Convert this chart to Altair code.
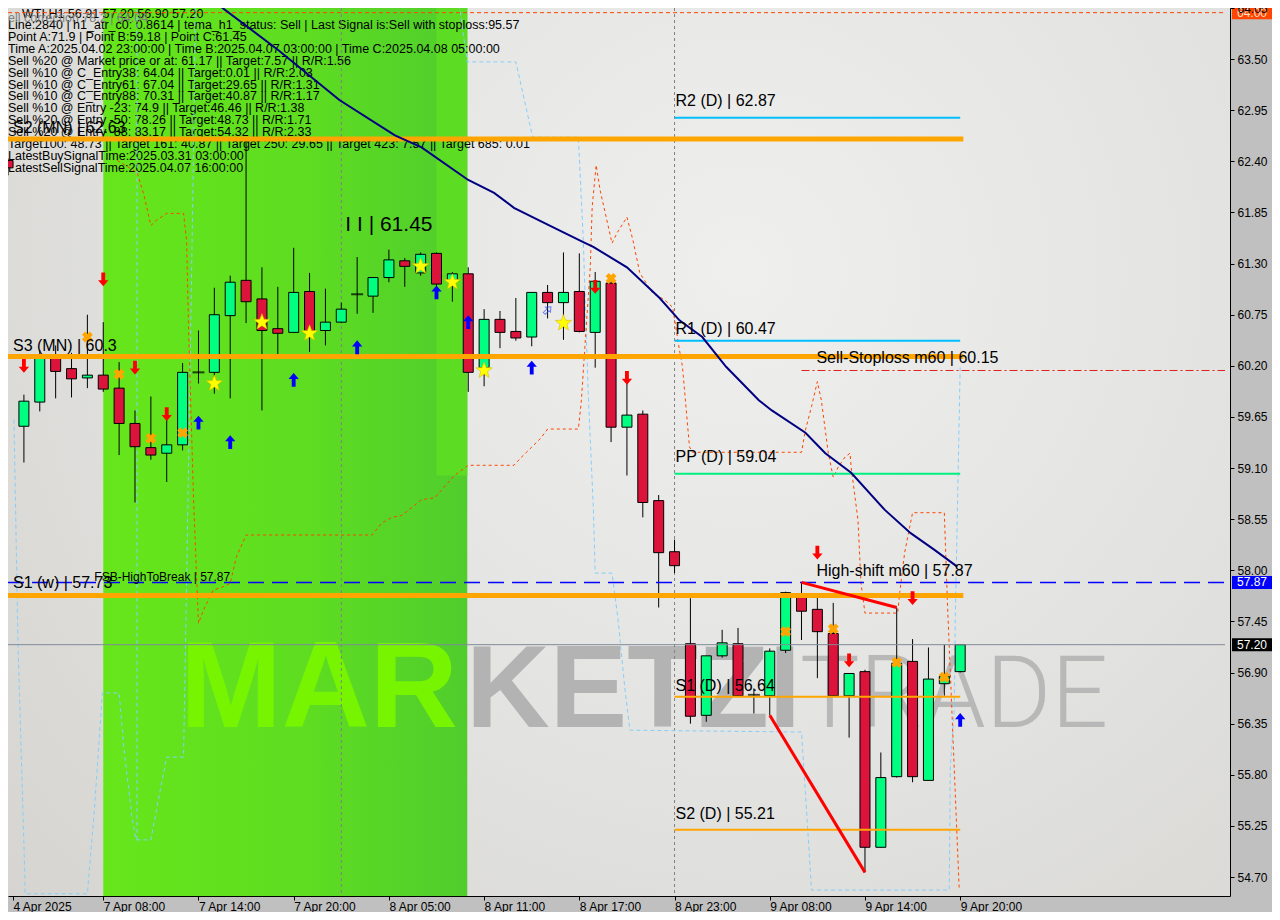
import math
import altair as alt
import pandas as pd

FONT = "Liberation Sans"
W, H = 1222, 888
X_DOMAIN = [0.3125, 76.6875]
Y_DOMAIN = [54.496, 64.05]
PX_PER_UNIT = H / (Y_DOMAIN[1] - Y_DOMAIN[0])

# ---------------- candles (bar index 0..60) ----------------
OPEN = [62.41, 59.55, 59.81, 60.30, 60.17, 60.07, 60.10, 59.96, 59.58, 59.32,
        59.26, 59.35, 60.13, 60.13, 60.74, 61.12, 60.92, 60.60, 60.56, 61.00,
        60.58, 60.67, 60.97, 60.95, 61.15, 61.33, 61.20, 61.41, 61.12, 61.19,
        60.18, 60.70, 60.57, 60.51, 60.99, 60.88, 61.00, 60.56, 61.09, 59.54,
        59.68, 58.75, 58.20, 57.21, 56.44, 57.08, 57.21, 56.66, 56.65, 57.14,
        57.71, 57.58, 57.32, 56.65, 56.91, 55.02, 55.78, 57.02, 55.74, 56.78,
        56.91]
HIGH = [62.43, 59.89, 60.37, 60.42, 60.34, 60.75, 60.67, 60.24, 59.72, 59.87,
        59.64, 60.23, 60.58, 61.04, 61.17, 62.63, 61.26, 61.05, 61.47, 61.20,
        61.03, 60.88, 61.37, 61.15, 61.45, 61.36, 61.42, 61.42, 61.21, 61.26,
        60.81, 60.79, 60.93, 60.99, 61.07, 61.42, 61.41, 61.21, 61.12, 60.01,
        59.72, 58.81, 58.33, 57.70, 57.08, 57.36, 57.38, 56.73, 57.16, 57.77,
        57.87, 57.71, 57.65, 56.89, 56.93, 56.04, 57.60, 57.26, 57.17, 57.20,
        57.20]
LOW = [62.25, 59.16, 59.71, 59.85, 59.86, 59.96, 59.92, 59.24, 58.73, 59.19,
       58.95, 59.29, 60.01, 59.90, 59.85, 60.66, 59.72, 60.32, 60.56, 60.35,
       60.42, 60.66, 60.76, 60.77, 61.10, 61.05, 61.17, 61.06, 60.89, 59.92,
       59.98, 60.39, 60.47, 60.41, 60.71, 60.48, 60.56, 60.18, 59.38, 59.02,
       58.57, 57.60, 57.97, 56.35, 56.37, 57.06, 56.65, 56.46, 56.44, 57.11,
       57.25, 56.84, 56.65, 56.20, 54.75, 55.02, 55.77, 55.72, 55.74, 56.65,
       56.90]
CLOSE = [62.33, 59.82, 60.32, 60.14, 60.06, 60.10, 59.95, 59.58, 59.33, 59.24,
         59.35, 60.13, 60.13, 60.75, 61.10, 60.89, 60.58, 60.55, 60.99, 60.58,
         60.67, 60.81, 60.97, 61.15, 61.34, 61.27, 61.40, 61.08, 61.19, 60.13,
         60.70, 60.56, 60.50, 60.99, 60.88, 60.99, 60.57, 61.11, 59.54, 59.67,
         58.73, 58.19, 58.05, 56.43, 57.08, 57.22, 56.65, 56.66, 57.13, 57.76,
         57.56, 57.34, 56.65, 56.89, 55.02, 55.77, 57.00, 55.78, 56.83, 56.86,
         57.20]

# ---------------- axes ----------------
PRICE_TICKS = [54.70, 55.25, 55.80, 56.35, 56.90, 57.45, 58.00, 58.55, 59.10,
               59.65, 60.20, 60.75, 61.30, 61.85, 62.40, 62.95, 63.50, 64.05]
TIME_TICK_IDX = [0.3125, 6, 12, 18, 24, 30, 36, 42, 48, 54, 60]
TIME_TICK_LABELS = ["4 Apr 2025", "7 Apr 08:00", "7 Apr 14:00", "7 Apr 20:00",
                    "8 Apr 05:00", "8 Apr 11:00", "8 Apr 17:00", "8 Apr 23:00",
                    "9 Apr 08:00", "9 Apr 14:00", "9 Apr 20:00"]

# ---------------- levels ----------------
MN_NAMES = ["S2 (MN) | 62.63", "S3 (MN) | 60.3", "S1 (w) | 57.73"]
MN_LEVELS = [62.64, 60.30, 57.73]
PIVOT_NAMES = ["R2 (D)", "R1 (D)", "PP (D)", "S1 (D)", "S2 (D)"]
PIVOT_LEVELS = [62.87, 60.47, 59.04, 56.64, 55.21]
PIVOT_COLORS = ["#00BFFF", "#00BFFF", "#00F080", "#FFA500", "#FFA500"]
PIVOT_START, PIVOT_END = 42, 60
FSB_LEVEL = 57.87
STOPLOSS_LEVEL = 60.15
STOPLOSS_START = 50
PRICE_NOW = 57.20
TOP_LEVEL = 64.00
SEPARATORS = [21, 42]
GREEN_START, GREEN_END = 6.0, 28.94

# ---------------- indicator paths (index, price) ----------------
MA_PATH = [(12.63, 64.17), (13.13, 64.10), (17.0, 63.60), (20.88, 63.06), (24.38, 62.68),
           (26.06, 62.55), (29.0, 62.20), (30.63, 62.06), (31.88, 61.90), (33.75, 61.74),
           (36.25, 61.53), (36.88, 61.48), (39.0, 61.26), (41.06, 60.93), (42.31, 60.69),
           (43.75, 60.51), (45.25, 60.19), (47.31, 59.83), (48.13, 59.72), (50.25, 59.48),
           (51.5, 59.26), (53.13, 59.05), (55.25, 58.65), (56.88, 58.40), (58.38, 58.22),
           (59.81, 58.04)]
ORANGE_PATH = [(6.88, 62.41), (8.13, 62.28), (8.56, 62.04), (9.0, 61.71), (9.38, 61.77),
               (10.0, 61.84), (11.06, 61.84), (11.25, 61.55), (11.38, 60.58), (11.69, 58.76),
               (12.0, 57.43), (12.31, 57.57), (12.94, 57.79), (13.38, 57.81), (14.0, 57.86),
               (14.38, 58.14), (15.0, 58.38), (22.94, 58.38), (23.56, 58.51), (24.19, 58.57),
               (24.81, 58.59), (26.06, 58.76), (26.88, 58.78), (28.13, 59.02), (29.0, 59.13),
               (31.88, 59.13), (32.31, 59.21), (33.56, 59.42), (34.0, 59.52), (35.94, 59.52),
               (36.13, 59.83), (36.38, 60.48), (36.69, 61.26), (36.81, 61.91), (37.06, 62.36),
               (37.31, 62.09), (38.06, 61.52), (38.38, 61.63), (39.0, 61.80), (39.38, 61.55),
               (39.81, 61.20), (40.63, 60.98), (41.38, 60.91), (41.88, 60.83), (42.31, 60.37),
               (42.5, 60.19), (42.94, 59.33), (43.13, 59.27), (50.0, 59.27), (50.25, 59.51),
               (50.63, 59.76), (51.0, 60.03), (51.25, 59.83), (51.69, 59.26), (52.0, 59.00),
               (52.31, 59.11), (52.75, 59.22), (53.06, 59.26), (53.13, 59.11), (53.56, 58.54),
               (53.75, 57.86), (54.0, 57.54), (56.06, 57.54), (56.19, 57.76), (56.5, 58.19),
               (57.0, 58.62), (59.0, 58.62), (59.19, 57.68), (59.5, 56.39), (59.94, 54.56)]
BLUE_PATH = [(0.375, 59.62), (0.625, 57.22), (1.06, 54.70), (1.06, 54.52), (5.0, 54.52),
             (5.44, 55.42), (5.94, 56.68), (7.0, 56.68), (7.31, 56.07), (7.81, 55.35),
             (8.06, 55.10), (9.0, 55.10), (9.63, 55.67), (10.0, 55.99), (11.06, 55.99),
             (11.25, 57.86), (11.44, 59.83), (11.69, 62.52), (11.81, 64.30), (28.25, 64.30),
             (28.94, 63.47), (32.0, 63.47), (33.06, 62.66), (35.94, 62.66), (36.25, 61.55),
             (36.56, 59.91), (36.88, 58.68), (37.0, 57.97), (38.06, 57.97), (38.44, 57.47),
             (38.88, 56.71), (39.19, 56.28), (50.0, 56.26), (50.25, 55.60), (50.63, 54.56),
             (59.31, 54.56), (59.38, 55.88), (59.63, 56.50), (59.69, 57.47), (60.0, 60.19)]
BLUE_VERTICAL = (8.13, 55.10)
ZIGZAG_A = [(48, 56.44), (54, 54.75)]
ZIGZAG_B = [(50, 57.87), (56, 57.60)]

# ---------------- markers ----------------
SELL_ARROWS = [(1, 60.20), (6, 61.13), (8, 60.18), (10, 59.68), (37, 61.05),
               (39, 60.07), (51, 58.19), (53, 57.03), (57, 57.70)]
BUY_ARROWS = [(12, 59.59), (14, 59.38), (18, 60.05), (22, 60.40), (27, 60.99),
              (29, 60.67), (33, 60.18), (60, 56.39)]
STARS = [(13, 60.01), (16, 60.67), (19, 60.55), (26, 61.27), (28, 61.10), (30, 60.15), (35, 60.66)]
CROSSES = [(5, 60.51), (7, 60.11), (9, 59.42), (11, 59.48), (38, 61.14),
           (49, 57.34), (52, 57.37), (56, 57.01), (59, 56.85)]
HOLLOW_ARROW = (34, 60.80)

INFO_LINES = [
    "Line:2840 | h1_atr_c0: 0.8614 | tema_h1_status: Sell | Last Signal is:Sell with stoploss:95.57",
    "Point A:71.9 | Point B:59.18 | Point C:61.45",
    " Time A:2025.04.02 23:00:00 | Time B:2025.04.07 03:00:00 | Time C:2025.04.08 05:00:00",
    "Sell %20 @ Market price or at: 61.17 || Target:7.57 || R/R:1.56",
    "Sell %10 @ C_Entry38: 64.04 || Target:0.01 || R/R:2.03",
    "Sell %10 @ C_Entry61: 67.04 || Target:29.65 || R/R:1.31",
    "Sell %10 @ C_Entry88: 70.31 || Target:40.87 || R/R:1.17",
    "Sell %10 @ Entry -23: 74.9 || Target:46.46 || R/R:1.38",
    "Sell %20 @ Entry -50: 78.26 || Target:48.73 || R/R:1.71",
    "Sell %20 @ Entry -88: 83.17 || Target:54.32 || R/R:2.33",
    " Target100: 48.73 || Target 161: 40.87 || Target 250: 29.65 || Target 423: 7.57 || Target 685: 0.01",
    "LatestBuySignalTime:2025.03.31 03:00:00",
    "LatestSellSignalTime:2025.04.07 16:00:00",
]
TITLE = "WTI,H1   56.91 57.20 56.90 57.20"
SUBTITLE = "ell correction 78.2 | 64.04"

# ---------------- helpers ----------------
xs = alt.Scale(domain=X_DOMAIN, nice=False, zero=False)
ys = alt.Scale(domain=Y_DOMAIN, nice=False, zero=False)
label_expr = " : ".join(f"datum.value < {v + 0.5} ? '{t}'" for v, t in
                        zip(TIME_TICK_IDX, TIME_TICK_LABELS)) + " : ''"
XAXIS = alt.Axis(values=TIME_TICK_IDX, labelExpr=label_expr, labelAlign="left",
                 labelBaseline="top", labelPadding=1, tickSize=4, labelOverlap=False,
                 labelFlush=False, grid=False, title=None, zindex=2)
YAXIS = alt.Axis(orient="right", values=PRICE_TICKS, format=".2f", tickSize=4,
                 labelPadding=3, labelOverlap=False, labelFlush=False, grid=False,
                 title=None, zindex=2)


def X(f):
    return alt.X(f + ":Q", scale=xs, axis=XAXIS, title=None)


def Y(f):
    return alt.Y(f + ":Q", scale=ys, axis=YAXIS, title=None)


def path_df(path):
    return pd.DataFrame({"x": [p[0] for p in path], "y": [p[1] for p in path],
                         "seq": list(range(len(path)))})


def pts(lst):
    return pd.DataFrame({"x": [p[0] for p in lst], "y": [p[1] for p in lst]})


def star_path(n=5, r_in=0.42):
    out = []
    for k in range(2 * n):
        a = -math.pi / 2 + k * math.pi / n
        r = 1.0 if k % 2 == 0 else r_in
        out.append(f"{r * math.cos(a):.3f},{r * math.sin(a):.3f}")
    return "M" + " L".join(out) + " Z"


UP_ARROW = "M0,-1 L0.75,-0.12 L0.28,-0.12 L0.28,1 L-0.28,1 L-0.28,-0.12 L-0.75,-0.12 Z"
DOWN_ARROW = "M0,1 L0.75,0.12 L0.28,0.12 L0.28,-1 L-0.28,-1 L-0.28,0.12 L-0.75,0.12 Z"

one = pd.DataFrame({"a": [0]})
layers = []

# background (plot area)
bg = alt.RadialGradient(gradient="radial", x1=0.6, y1=0.35, r1=0.0, x2=0.6, y2=0.35, r2=0.8,
                        stops=[alt.GradientStop(offset=0, color="#EFEFEE"),
                               alt.GradientStop(offset=0.5, color="#E3E3E1"),
                               alt.GradientStop(offset=1, color="#D5D4D0")])
layers.append(alt.Chart(one).mark_rect(fill=bg).encode(
    x=alt.value(0), x2=alt.value(W), y=alt.value(0), y2=alt.value(H)))

# green session band
green = alt.LinearGradient(gradient="linear", x1=0, y1=0, x2=1, y2=0,
                           stops=[alt.GradientStop(offset=0, color="#66E61A"),
                                  alt.GradientStop(offset=0.55, color="#5EDD21"),
                                  alt.GradientStop(offset=1, color="#50CD2D")])
gdf = pd.DataFrame({"x": [GREEN_START], "x2": [GREEN_END]})
layers.append(alt.Chart(gdf).mark_rect(fill=green).encode(
    x=X("x"), x2="x2:Q", y=alt.value(0), y2=alt.value(H)))
pdf = pd.DataFrame({"x": [27.0], "x2": [GREEN_END], "y": [59.02], "y2": [Y_DOMAIN[1]]})
layers.append(alt.Chart(pdf).mark_rect(fill="#5DDC24").encode(
    x=X("x"), x2="x2:Q", y=Y("y"), y2="y2:Q"))

# watermark
layers.append(alt.Chart(one).mark_text(text="MAR", font=FONT, fontWeight="bold", fontSize=122,
                                       align="left", baseline="alphabetic", color="#77F500").encode(
    x=alt.value(172), y=alt.value(719)))
layers.append(alt.Chart(one).mark_text(text="KETZI", font=FONT, fontWeight="bold", fontSize=116,
                                       align="left", baseline="alphabetic", color="#B3B3B3").encode(
    x=alt.value(458), y=alt.value(719)))
layers.append(alt.Chart(one).mark_text(text="TRADE", font="Roboto", fontWeight=300, fontSize=100,
                                       align="left", baseline="alphabetic", color="#B8B8B8").encode(
    x=alt.value(792), y=alt.value(719)))

# info text block
layers.append(alt.Chart(one).mark_text(text="\n".join(INFO_LINES), lineBreak="\n", lineHeight=11.9,
                                       font=FONT, fontSize=12.5, align="left", baseline="top",
                                       color="black").encode(x=alt.value(0), y=alt.value(11)))
layers.append(alt.Chart(one).mark_text(text=TITLE, font=FONT, fontSize=12.5, align="left",
                                       baseline="middle", color="black").encode(
    x=alt.value(14), y=alt.value(6)))
layers.append(alt.Chart(one).mark_text(text=SUBTITLE, font=FONT, fontSize=12.5, align="left",
                                       baseline="middle", color="#808080").encode(
    x=alt.value(0), y=alt.value(10)))

# period separators
sdf = pd.DataFrame({"x": SEPARATORS})
layers.append(alt.Chart(sdf).mark_rule(stroke="#808080", strokeDash=[3, 3], strokeWidth=1).encode(
    x=X("x"), y=alt.value(0), y2=alt.value(H)))

# indicator lines
layers.append(alt.Chart(path_df(BLUE_PATH)).mark_line(color="#87CEFA", strokeWidth=1,
                                                      strokeDash=[4, 3], clip=True).encode(
    x=X("x"), y=Y("y"), order="seq:Q"))
bv = pd.DataFrame({"x": [BLUE_VERTICAL[0]], "y": [BLUE_VERTICAL[1]], "y2": [Y_DOMAIN[1]]})
layers.append(alt.Chart(bv).mark_rule(color="#87CEFA", strokeWidth=1, strokeDash=[4, 3]).encode(
    x=X("x"), y=Y("y"), y2="y2:Q"))
layers.append(alt.Chart(path_df(ORANGE_PATH)).mark_line(color="#FF4500", strokeWidth=1,
                                                        strokeDash=[3, 3], clip=True).encode(
    x=X("x"), y=Y("y"), order="seq:Q"))

# candles
cdf = pd.DataFrame({"x": list(range(len(OPEN))), "open": OPEN, "high": HIGH,
                    "low": LOW, "close": CLOSE})
cdf["kind"] = ["doji" if abs(o - c) < 0.005 else ("up" if c > o else "down")
               for o, c in zip(OPEN, CLOSE)]
layers.append(alt.Chart(cdf).mark_rule(color="black", strokeWidth=1, clip=True).encode(
    x=X("x"), y=Y("low"), y2="high:Q"))
layers.append(alt.Chart(cdf).transform_filter("datum.kind != 'doji'").mark_bar(
    size=10, stroke="black", strokeWidth=1, clip=True).encode(
    x=X("x"), y=Y("open"), y2="close:Q",
    fill=alt.Fill("kind:N", scale=alt.Scale(domain=["up", "down"], range=["#00FF80", "#DC143C"]),
                  legend=None)))
layers.append(alt.Chart(cdf).transform_filter("datum.kind == 'doji'").mark_tick(
    orient="horizontal", color="black", thickness=2, size=12).encode(x=X("x"), y=Y("open")))

# horizontal levels
mdf = pd.DataFrame({"x": [0.0] * 3, "x2": [60.2] * 3, "y": MN_LEVELS})
layers.append(alt.Chart(mdf).mark_rule(color="#FFA500", strokeWidth=5, clip=True).encode(
    x=X("x"), x2="x2:Q", y=Y("y")))
pvdf = pd.DataFrame({"x": [PIVOT_START] * 5, "x2": [PIVOT_END] * 5, "y": PIVOT_LEVELS,
                     "c": PIVOT_COLORS})
layers.append(alt.Chart(pvdf).mark_rule(strokeWidth=2).encode(
    x=X("x"), x2="x2:Q", y=Y("y"), color=alt.Color("c:N", scale=None)))
fdf = pd.DataFrame({"x": [0.0], "x2": [X_DOMAIN[1]], "y": [FSB_LEVEL]})
layers.append(alt.Chart(fdf).mark_rule(color="#0000FF", strokeWidth=1.5, strokeDash=[16, 8],
                                       clip=True).encode(x=X("x"), x2="x2:Q", y=Y("y")))
ndf = pd.DataFrame({"x": [0.0], "x2": [X_DOMAIN[1]], "y": [PRICE_NOW]})
layers.append(alt.Chart(ndf).mark_rule(color="#7F8A99", strokeWidth=1, clip=True).encode(
    x=X("x"), x2="x2:Q", y=Y("y")))
tdf = pd.DataFrame({"x": [0.0], "x2": [X_DOMAIN[1]], "y": [TOP_LEVEL]})
layers.append(alt.Chart(tdf).mark_rule(color="#FF4500", strokeWidth=1, strokeDash=[4, 3],
                                       clip=True).encode(x=X("x"), x2="x2:Q", y=Y("y")))
sldf = pd.DataFrame({"x": [STOPLOSS_START], "x2": [X_DOMAIN[1]], "y": [STOPLOSS_LEVEL]})
layers.append(alt.Chart(sldf).mark_rule(color="#E02020", strokeWidth=1, strokeDash=[8, 3, 2, 3],
                                        clip=True).encode(x=X("x"), x2="x2:Q", y=Y("y")))

# moving average
layers.append(alt.Chart(path_df(MA_PATH)).mark_line(color="#000080", strokeWidth=2, clip=True).encode(
    x=X("x"), y=Y("y"), order="seq:Q"))

# red zigzag
for zz in (ZIGZAG_A, ZIGZAG_B):
    layers.append(alt.Chart(path_df(zz)).mark_line(color="#FF0000", strokeWidth=3).encode(
        x=X("x"), y=Y("y"), order="seq:Q"))

layers.append(alt.Chart(pts(SELL_ARROWS)).mark_point(shape=DOWN_ARROW, filled=True, size=190,
                                                     color="#FF0000", opacity=1).encode(x=X("x"), y=Y("y")))
layers.append(alt.Chart(pts(BUY_ARROWS)).mark_point(shape=UP_ARROW, filled=True, size=190,
                                                    color="#0000FF", opacity=1).encode(x=X("x"), y=Y("y")))
layers.append(alt.Chart(pts([HOLLOW_ARROW])).mark_point(shape=UP_ARROW, filled=False, size=90, angle=45,
                                                        color="#3050FF", strokeWidth=1).encode(x=X("x"), y=Y("y")))
layers.append(alt.Chart(pts(STARS)).mark_point(shape=star_path(), filled=True, size=290, fill="#FFFF00",
                                               stroke="#D8B800", strokeWidth=0.6, opacity=1).encode(
    x=X("x"), y=Y("y")))
layers.append(alt.Chart(pts(CROSSES)).mark_point(shape="cross", angle=45, filled=True, size=120,
                                                 color="#FFA500", opacity=1).encode(x=X("x"), y=Y("y")))

# level labels
lab_rows = []
for name, lvl, off in zip(MN_NAMES, MN_LEVELS, [11, 11, 12]):
    lab_rows.append((X_DOMAIN[0], lvl + off / PX_PER_UNIT, name))
for name, lvl, off in zip(PIVOT_NAMES, PIVOT_LEVELS, [17, 12, 17, 11, 16]):
    lab_rows.append((PIVOT_START + 0.06, lvl + off / PX_PER_UNIT, f"{name} | {lvl:.2f}"))
lab_rows.append((50.94, STOPLOSS_LEVEL + 12 / PX_PER_UNIT, f"Sell-Stoploss m60 | {STOPLOSS_LEVEL:.2f}"))
lab_rows.append((50.94, FSB_LEVEL + 11 / PX_PER_UNIT, f"High-shift m60 | {FSB_LEVEL:.2f}"))
ldf = pd.DataFrame(lab_rows, columns=["x", "y", "t"])
layers.append(alt.Chart(ldf).mark_text(font=FONT, fontSize=16, align="left", baseline="middle",
                                       color="black").encode(x=X("x"), y=Y("y"), text="t:N"))
small = pd.DataFrame({"x": [5.44], "y": [FSB_LEVEL + 5 / PX_PER_UNIT],
                      "t": [f"FSB-HighToBreak | {FSB_LEVEL:.2f}"]})
layers.append(alt.Chart(small).mark_text(font=FONT, fontSize=12, align="left", baseline="middle",
                                         color="black").encode(x=X("x"), y=Y("y"), text="t:N"))
cpt = pd.DataFrame({"x": [24], "y": [61.45 + 25 / PX_PER_UNIT], "t": ["I I | 61.45"]})
layers.append(alt.Chart(cpt).mark_text(font=FONT, fontSize=21, align="center", baseline="middle",
                                       color="black").encode(x=X("x"), y=Y("y"), text="t:N"))

# right-axis price tags
tags = pd.DataFrame({"y": [TOP_LEVEL, FSB_LEVEL, PRICE_NOW],
                     "bg": ["#FF4500", "#0000FF", "#000000"],
                     "fg": ["#FFE0C8", "#FFFFFF", "#FFFFFF"]})
tags["lo"] = tags["y"] - 6.5 / PX_PER_UNIT
tags["hi"] = tags["y"] + 6.5 / PX_PER_UNIT
tags["t"] = [f"{v:.2f}" for v in tags["y"]]
layers.append(alt.Chart(tags).mark_rect().encode(
    x=alt.value(W + 2), x2=alt.value(W + 44), y=Y("lo"), y2="hi:Q", fill=alt.Fill("bg:N", scale=None)))
layers.append(alt.Chart(tags).mark_text(font=FONT, fontSize=12, align="left", baseline="middle").encode(
    x=alt.value(W + 7), y=Y("y"), text="t:N", color=alt.Color("fg:N", scale=None)))

chart = alt.layer(*layers).properties(
    width=W, height=H,
    autosize=alt.AutoSizeParams(type="none"),
    padding={"left": 0, "top": 0, "right": 42, "bottom": 16},
    background="#C0C0C0",
).configure_view(stroke=None).configure_axis(
    domainColor="black", tickColor="black", labelColor="black", labelFont=FONT,
    labelFontSize=12, domainWidth=1, tickWidth=1)

chart.save("out.html", embed_options={"renderer": "svg", "actions": False})
